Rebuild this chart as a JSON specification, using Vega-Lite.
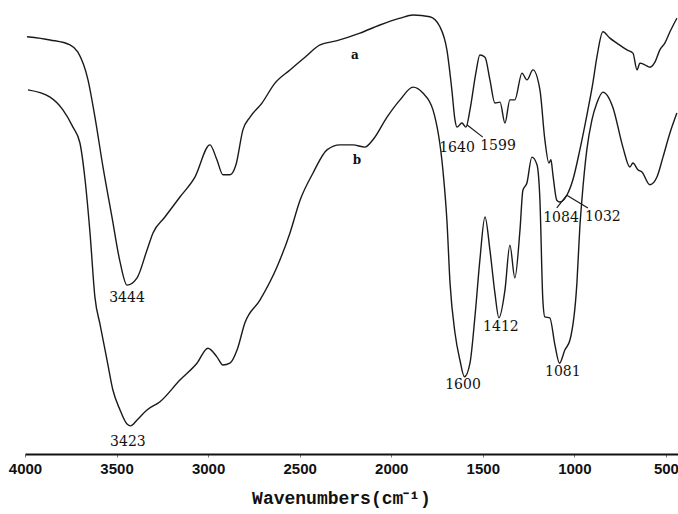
{
  "$schema": "https://vega.github.io/schema/vega-lite/v6.json",
  "width": 653,
  "height": 454,
  "autosize": {"type": "none"},
  "padding": {"left": 25, "top": 0, "right": 0, "bottom": 60},
  "background": "white",
  "config": {"view": {"stroke": null}},
  "datasets": {
    "spectra": [
      {"s":"a","wn":3989,"t":91.9},{"s":"a","wn":3863,"t":91.2},{"s":"a","wn":3754,"t":90.1},{"s":"a","wn":3711,"t":88.5},
      {"s":"a","wn":3656,"t":82.4},{"s":"a","wn":3618,"t":74.2},{"s":"a","wn":3574,"t":63.2},{"s":"a","wn":3525,"t":52.2},
      {"s":"a","wn":3481,"t":42.3},{"s":"a","wn":3443,"t":37.2},{"s":"a","wn":3388,"t":38.8},{"s":"a","wn":3334,"t":44.9},
      {"s":"a","wn":3301,"t":48.7},{"s":"a","wn":3236,"t":52.2},{"s":"a","wn":3154,"t":56.6},{"s":"a","wn":3072,"t":61.0},
      {"s":"a","wn":2990,"t":68.1},{"s":"a","wn":2952,"t":64.8},{"s":"a","wn":2919,"t":61.5},{"s":"a","wn":2881,"t":61.5},
      {"s":"a","wn":2848,"t":63.7},{"s":"a","wn":2810,"t":71.4},{"s":"a","wn":2771,"t":74.2},{"s":"a","wn":2706,"t":77.3},
      {"s":"a","wn":2635,"t":81.7},{"s":"a","wn":2553,"t":84.6},{"s":"a","wn":2471,"t":87.4},{"s":"a","wn":2389,"t":90.1},
      {"s":"a","wn":2300,"t":91.0},{"s":"a","wn":2171,"t":92.7},{"s":"a","wn":2062,"t":94.5},
      {"s":"a","wn":1952,"t":96.0},{"s":"a","wn":1881,"t":96.7},{"s":"a","wn":1789,"t":96.3},{"s":"a","wn":1734,"t":94.1},
      {"s":"a","wn":1696,"t":89.0},{"s":"a","wn":1669,"t":80.2},{"s":"a","wn":1652,"t":73.6},{"s":"a","wn":1641,"t":72.0},
      {"s":"a","wn":1614,"t":72.9},{"s":"a","wn":1592,"t":72.0},{"s":"a","wn":1570,"t":75.8},{"s":"a","wn":1538,"t":83.9},
      {"s":"a","wn":1516,"t":87.9},{"s":"a","wn":1488,"t":87.4},{"s":"a","wn":1461,"t":82.4},{"s":"a","wn":1434,"t":77.3},
      {"s":"a","wn":1406,"t":77.5},{"s":"a","wn":1379,"t":72.9},{"s":"a","wn":1352,"t":78.0},{"s":"a","wn":1325,"t":78.0},
      {"s":"a","wn":1286,"t":83.9},{"s":"a","wn":1259,"t":82.4},{"s":"a","wn":1226,"t":84.6},{"s":"a","wn":1188,"t":80.2},
      {"s":"a","wn":1161,"t":69.2},{"s":"a","wn":1139,"t":64.1},{"s":"a","wn":1128,"t":64.8},{"s":"a","wn":1117,"t":61.5},
      {"s":"a","wn":1096,"t":55.9},{"s":"a","wn":1079,"t":55.5},{"s":"a","wn":1041,"t":57.0},{"s":"a","wn":1008,"t":60.4},
      {"s":"a","wn":970,"t":67.0},{"s":"a","wn":926,"t":75.8},{"s":"a","wn":899,"t":81.7},{"s":"a","wn":877,"t":87.4},
      {"s":"a","wn":844,"t":93.0},{"s":"a","wn":806,"t":91.6},{"s":"a","wn":768,"t":90.5},{"s":"a","wn":713,"t":89.0},
      {"s":"a","wn":680,"t":88.3},{"s":"a","wn":658,"t":84.6},{"s":"a","wn":642,"t":86.1},{"s":"a","wn":615,"t":85.7},
      {"s":"a","wn":587,"t":85.2},{"s":"a","wn":560,"t":86.3},{"s":"a","wn":533,"t":89.0},{"s":"a","wn":506,"t":90.5},
      {"s":"a","wn":478,"t":93.0},{"s":"a","wn":440,"t":96.0},

      {"s":"b","wn":3984,"t":80.2},{"s":"b","wn":3863,"t":78.6},{"s":"b","wn":3793,"t":75.8},{"s":"b","wn":3738,"t":72.0},
      {"s":"b","wn":3700,"t":68.5},{"s":"b","wn":3672,"t":60.4},{"s":"b","wn":3645,"t":48.7},{"s":"b","wn":3618,"t":34.5},
      {"s":"b","wn":3590,"t":28.5},{"s":"b","wn":3552,"t":20.7},{"s":"b","wn":3520,"t":14.1},{"s":"b","wn":3481,"t":9.7},
      {"s":"b","wn":3443,"t":6.6},{"s":"b","wn":3423,"t":6.2},{"s":"b","wn":3388,"t":7.5},{"s":"b","wn":3334,"t":9.7},
      {"s":"b","wn":3263,"t":11.5},{"s":"b","wn":3154,"t":16.3},{"s":"b","wn":3061,"t":20.0},{"s":"b","wn":3001,"t":23.3},
      {"s":"b","wn":2952,"t":21.4},{"s":"b","wn":2919,"t":19.6},{"s":"b","wn":2881,"t":20.0},{"s":"b","wn":2842,"t":22.9},
      {"s":"b","wn":2799,"t":28.9},{"s":"b","wn":2717,"t":33.9},{"s":"b","wn":2624,"t":41.2},{"s":"b","wn":2553,"t":48.7},
      {"s":"b","wn":2498,"t":55.9},{"s":"b","wn":2427,"t":61.9},{"s":"b","wn":2351,"t":67.0},{"s":"b","wn":2280,"t":68.1},
      {"s":"b","wn":2209,"t":68.1},{"s":"b","wn":2144,"t":67.6},{"s":"b","wn":2100,"t":69.2},{"s":"b","wn":2023,"t":74.2},
      {"s":"b","wn":1952,"t":78.0},{"s":"b","wn":1881,"t":80.8},{"s":"b","wn":1827,"t":79.5},{"s":"b","wn":1772,"t":75.8},
      {"s":"b","wn":1718,"t":62.6},{"s":"b","wn":1696,"t":51.5},{"s":"b","wn":1679,"t":37.7},{"s":"b","wn":1652,"t":26.7},
      {"s":"b","wn":1625,"t":20.7},{"s":"b","wn":1600,"t":17.0},{"s":"b","wn":1570,"t":20.0},{"s":"b","wn":1543,"t":30.2},
      {"s":"b","wn":1516,"t":42.7},{"s":"b","wn":1488,"t":52.2},{"s":"b","wn":1461,"t":44.9},{"s":"b","wn":1434,"t":35.5},
      {"s":"b","wn":1412,"t":30.0},{"s":"b","wn":1379,"t":36.1},{"s":"b","wn":1352,"t":46.0},{"s":"b","wn":1325,"t":38.8},
      {"s":"b","wn":1297,"t":49.3},{"s":"b","wn":1281,"t":58.1},{"s":"b","wn":1259,"t":59.7},{"s":"b","wn":1232,"t":65.4},
      {"s":"b","wn":1204,"t":63.7},{"s":"b","wn":1188,"t":55.9},{"s":"b","wn":1172,"t":33.9},{"s":"b","wn":1161,"t":30.2},
      {"s":"b","wn":1134,"t":30.0},{"s":"b","wn":1106,"t":24.0},{"s":"b","wn":1081,"t":20.0},{"s":"b","wn":1052,"t":22.9},
      {"s":"b","wn":1024,"t":25.1},{"s":"b","wn":986,"t":37.7},{"s":"b","wn":970,"t":50.0},{"s":"b","wn":959,"t":55.9},
      {"s":"b","wn":932,"t":67.0},{"s":"b","wn":904,"t":73.6},{"s":"b","wn":877,"t":77.3},{"s":"b","wn":844,"t":79.7},
      {"s":"b","wn":790,"t":76.4},{"s":"b","wn":735,"t":67.6},{"s":"b","wn":697,"t":63.2},{"s":"b","wn":680,"t":64.1},
      {"s":"b","wn":653,"t":62.6},{"s":"b","wn":631,"t":62.1},{"s":"b","wn":587,"t":59.3},{"s":"b","wn":549,"t":61.0},
      {"s":"b","wn":516,"t":65.4},{"s":"b","wn":478,"t":70.7},{"s":"b","wn":440,"t":75.1}
    ],
    "peaks": [
      {"label":"3444","wn":3443,"t":34.4},
      {"label":"3423","wn":3438,"t":2.6},
      {"label":"1640","wn":1641,"t":67.4},
      {"label":"1599","wn":1417,"t":67.8},
      {"label":"1084","wn":1073,"t":52.0},
      {"label":"1032","wn":844,"t":52.2},
      {"label":"1600","wn":1608,"t":15.2},
      {"label":"1412","wn":1401,"t":28.0},
      {"label":"1081","wn":1063,"t":18.1}
    ],
    "names": [
      {"label":"a","wn":2198,"t":87.9},
      {"label":"b","wn":2187,"t":64.8}
    ],
    "leaders": [
      {"wn":1587,"t":72.5,"wn2":1500,"t2":69.8},
      {"wn":1096,"t":54.2,"wn2":1041,"t2":57.0},
      {"wn":1041,"t":57.0,"wn2":926,"t2":54.2}
    ]
  },
  "layer": [
    {
      "data": {"name": "spectra"},
      "mark": {"type": "line", "color": "#1a1a1a", "strokeWidth": 1.4, "clip": true, "interpolate": "monotone"},
      "encoding": {
        "x": {
          "field": "wn", "type": "quantitative",
          "scale": {"domain": [434, 4000], "reverse": true, "nice": false, "zero": false},
          "axis": {
            "values": [4000, 3500, 3000, 2500, 2000, 1500, 1000, 500],
            "format": "d",
            "title": "Wavenumbers(cm⁻¹)",
            "titleFont": "Liberation Mono", "titleFontSize": 18, "titleFontWeight": "bold", "titleColor": "#111",
            "titlePadding": 13, "titleX": 316,
            "labelFont": "Liberation Sans", "labelFontSize": 15, "labelFontWeight": "bold", "labelColor": "#111",
            "labelPadding": 4, "labelFlush": false, "labelBound": false, "labelOverlap": false,
            "domainColor": "#111", "domainWidth": 2,
            "ticks": true, "tickSize": 3, "tickColor": "#777", "tickWidth": 1,
            "grid": false
          }
        },
        "y": {"field": "t", "type": "quantitative", "scale": {"domain": [0, 100], "nice": false}, "axis": null},
        "detail": {"field": "s"}
      }
    },
    {
      "data": {"name": "leaders"},
      "mark": {"type": "rule", "color": "#1a1a1a", "strokeWidth": 1.2},
      "encoding": {
        "x": {"field": "wn", "type": "quantitative"},
        "x2": {"field": "wn2"},
        "y": {"field": "t", "type": "quantitative"},
        "y2": {"field": "t2"}
      }
    },
    {
      "data": {"name": "peaks"},
      "mark": {"type": "text", "font": "DejaVu Serif", "fontSize": 14, "color": "#111", "align": "center", "baseline": "middle"},
      "encoding": {
        "x": {"field": "wn", "type": "quantitative"},
        "y": {"field": "t", "type": "quantitative"},
        "text": {"field": "label"}
      }
    },
    {
      "data": {"name": "names"},
      "mark": {"type": "text", "font": "DejaVu Serif", "fontSize": 12, "fontWeight": "bold", "color": "#111", "align": "center", "baseline": "middle"},
      "encoding": {
        "x": {"field": "wn", "type": "quantitative"},
        "y": {"field": "t", "type": "quantitative"},
        "text": {"field": "label"}
      }
    }
  ]
}
